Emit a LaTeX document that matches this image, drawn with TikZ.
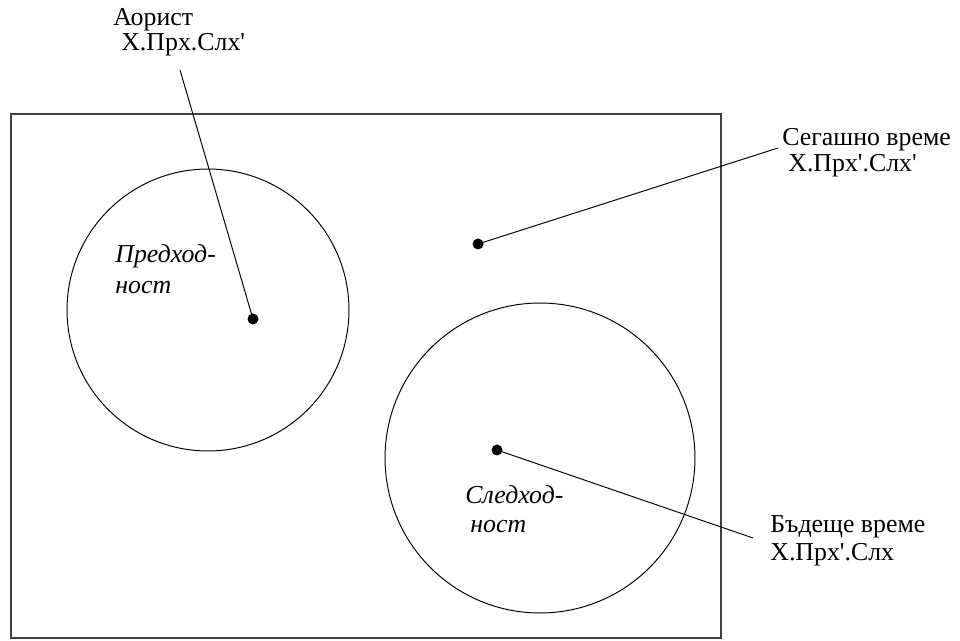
\documentclass[tikz,border=0pt]{standalone}
\usepackage{fontspec}
\setmainfont{Liberation Serif}[Ligatures=TeXOff]
\tikzset{
  dot/.style={circle, fill=black, inner sep=0pt, minimum size=0.22cm},
  lbl/.style={anchor=base west, inner sep=0pt, font=\fontsize{14.7pt}{17pt}\selectfont},
  ilbl/.style={lbl, font=\fontsize{14.7pt}{17pt}\selectfont\itshape},
  thin line/.style={line width=0.55pt}
}
\begin{document}
\begin{tikzpicture}[x=0.02cm, y=-0.02cm]
    \useasboundingbox (0,0) rectangle (960,641);

    % Draw the frame
    \draw[line width=0.8pt, black!75] (11,114) rectangle (721,638);

    % Draw the two circles
    \draw[thin line] (208,310) circle[radius=2.82cm];
    \draw[thin line] (540,458) circle[radius=3.1cm];

    % Place the dots
    \node[dot] (pred) at (253,319) {};
    \node[dot] (seg) at (478,244) {};
    \node[dot] (sled) at (497,450) {};

    % Italic labels inside the circles
    \node[ilbl] (predA) at (115,263) {Предход-};
    \node[ilbl] (predB) at (115,294) {ност};
    \node[ilbl] (sledA) at (465,503) {Следход-};
    \node[ilbl] (sledB) at (470,533) {ност};

    % Label for "Аорист" above the frame
    \node[lbl] (aorA) at (113,26) {Аорист};
    \node[lbl] (aorB) at (121,51) {X.Прх.Слх'};
    \coordinate (aorEnd) at (180,70);

    % Label for "Сегашно време" right of the frame
    \node[lbl] (segA) at (782,146) {Сегашно време};
    \node[lbl] (segB) at (788,172) {X.Прх'.Слх'};
    \coordinate (segEnd) at (778,148);

    % Label for "Бъдеще време" right of the frame
    \node[lbl] (budA) at (770,533) {Бъдеще време};
    \node[lbl] (budB) at (770,561) {X.Прх'.Слх};
    \coordinate (budEnd) at (753,538);

    % Connect the dots with their labels
    \draw[thin line] (pred.center) -- (aorEnd);
    \draw[thin line] (seg.center) -- (segEnd);
    \draw[thin line] (sled.center) -- (budEnd);
\end{tikzpicture}
\end{document}
